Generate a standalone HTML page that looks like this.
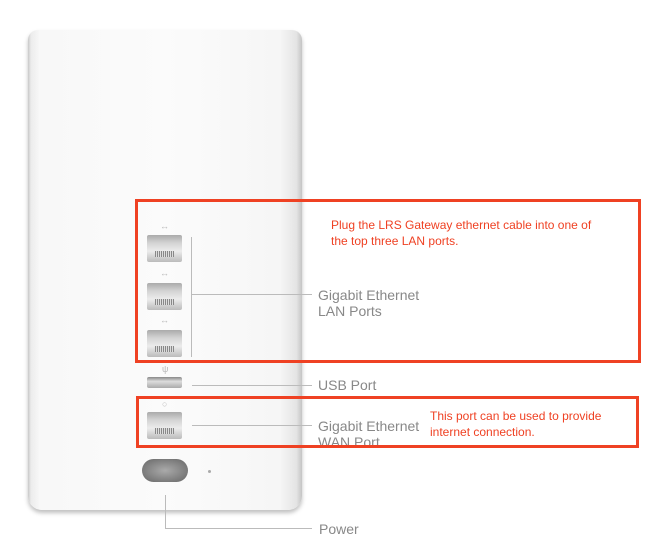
<!DOCTYPE html>
<html><head><style>
body{margin:0;width:658px;height:555px;background:#fff;position:relative;overflow:hidden;font-family:"Liberation Sans",sans-serif}
.a{position:absolute}
.dev{left:28px;top:30px;width:274px;height:480px;border-radius:10px 10px 14px 14px;background:linear-gradient(90deg,#c8c8c8 0,#ececec 3px,#f8f8f8 12px,#fbfbfb 50%,#f6f6f6 92%,#e4e4e4 98%,#c4c4c4 100%);box-shadow:0 3px 4px rgba(0,0,0,.25)}
.port{width:35px;height:27px;background:linear-gradient(#aaa 0,#d4d4d4 30%,#ececec 60%,#bbb 100%);border-radius:2px}
.port:after{content:"";position:absolute;left:8px;top:16px;width:19px;height:6px;background:repeating-linear-gradient(90deg,#888 0 1px,#ddd 1px 2px)}
.g{background:#bbb}
.t{color:#888;font-size:14px;line-height:16px}
.r{color:#ef4123;font-size:12px;line-height:16px}
.box{border:3px solid #ef4123}
.s{color:#bbb;font-size:9px}
</style></head><body>
<div class="a dev"></div>
<div class="a s" style="left:160px;top:221px">↔</div>
<div class="a port" style="left:147px;top:235px"></div>
<div class="a s" style="left:160px;top:268px">↔</div>
<div class="a port" style="left:147px;top:283px"></div>
<div class="a s" style="left:160px;top:315px">↔</div>
<div class="a port" style="left:147px;top:330px"></div>
<div class="a s" style="left:162px;top:364px">ψ</div>
<div class="a" style="left:147px;top:377px;width:35px;height:11px;background:linear-gradient(#888,#ddd 40%,#aaa);border-radius:2px"></div>
<div class="a s" style="left:162px;top:399px">○</div>
<div class="a port" style="left:147px;top:412px"></div>
<div class="a" style="left:142px;top:459px;width:46px;height:23px;border-radius:12px;background:radial-gradient(#aaa,#666)"></div>
<div class="a" style="left:208px;top:470px;width:3px;height:3px;border-radius:50%;background:#aaa"></div>
<div class="a g" style="left:191px;top:237px;width:1px;height:120px"></div>
<div class="a g" style="left:192px;top:294px;width:120px;height:1px"></div>
<div class="a g" style="left:192px;top:385px;width:120px;height:1px"></div>
<div class="a g" style="left:192px;top:425px;width:120px;height:1px"></div>
<div class="a g" style="left:165px;top:495px;width:1px;height:34px"></div>
<div class="a g" style="left:165px;top:528px;width:147px;height:1px"></div>
<div class="a t" style="left:318px;top:287px">Gigabit Ethernet<br>LAN Ports</div>
<div class="a t" style="left:318px;top:377px">USB Port</div>
<div class="a t" style="left:318px;top:418px">Gigabit Ethernet<br>WAN Port</div>
<div class="a t" style="left:319px;top:521px">Power</div>
<div class="a box" style="left:135px;top:199px;width:500px;height:158px"></div>
<div class="a box" style="left:136px;top:396px;width:497px;height:46px"></div>
<div class="a r" style="left:331px;top:217px">Plug the LRS Gateway ethernet cable into one of<br>the top three LAN ports.</div>
<div class="a r" style="left:430px;top:408px">This port can be used to provide<br>internet connection.</div>
</body></html>
